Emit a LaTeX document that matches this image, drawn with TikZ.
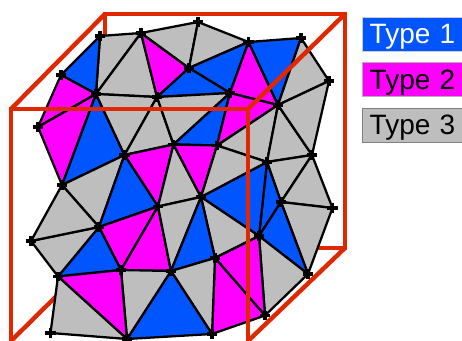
\documentclass[tikz,border=0pt]{standalone}
\usepackage{fontspec}
\setmainfont{Liberation Sans}
\definecolor{tblue}{HTML}{0055FF}
\definecolor{tmag}{HTML}{FF00FF}
\definecolor{tgray}{HTML}{BEBEBE}
\definecolor{tred}{HTML}{E02800}
\tikzset{
  cube/.style={draw=tred,line width=3.3pt,line join=miter,line cap=round},
  tri/.style={draw=black,line width=1.7pt,line join=round},
  vmark/.style={fill=black},
  legend/.style={anchor=west,draw=#1,line width=0.75pt,minimum height=25.5pt,text width=68pt,inner xsep=5.4pt,inner ysep=0pt,align=left,font=\fontsize{21pt}{22pt}\selectfont},
}
\begin{document}
\begin{tikzpicture}[x=0.75pt,y=-0.75pt]
\useasboundingbox (0,0) rectangle (462,341);
\clip (0,0) rectangle (462,341);
\fill[white] (0,0) rectangle (462,341);
% vertices
\foreach \n/\x/\y in {A/100/36,B/141/33,C/61/75,D/96/94,E/38/127,F/157/97,G/124.5/155,H/173.5/144.5,
 I/198/22,J/248.5/42,K/301/38,L/189/68,M/230/93,N/278/105,O/329/81,P/217/145.5,Q/267/162,R/312/155,
 S/62/185,T/99/227,U/31/241,V/158/206.5,W/58/276.5,X/121/270,Y/171/271,Z/50.5/333,AA/127/339,
 BB/201/197,CC/215/258,DD/259/236,EE/281/202,FF/332.5/208,GG/308/274,HH/265/315.5,II/212/334}
  {\coordinate (\n) at (\x,\y);}
\coordinate (b1) at (105,14);
\coordinate (b2) at (345,14);
\coordinate (b3) at (345,248);
\coordinate (b4) at (105,248);
\coordinate (f1) at (11,109);
\coordinate (f2) at (248,109);
\coordinate (f3) at (248,345);
\coordinate (f4) at (11,345);
\coordinate (f3d) at (248,341);
\coordinate (f4d) at (11,341);
% back edges of the cube
\draw[cube] (b1) -- (b2) -- (b3) -- (b4) -- cycle;
\draw[cube] (b4) -- (f4d);
% mesh
\foreach \a/\b/\c/\col in {
 A/B/D/tgray,B/D/F/tgray,B/F/L/tmag,B/I/L/tgray,I/J/L/tgray,L/J/M/tblue,L/F/M/tblue,
 J/M/N/tmag,J/K/N/tblue,K/N/O/tgray,A/C/D/tblue,C/D/E/tmag,E/D/S/tmag,D/S/G/tblue,
 D/G/F/tgray,F/G/H/tgray,F/H/M/tgray,H/M/P/tblue,M/P/N/tmag,G/H/V/tmag,H/V/BB/tgray,
 H/P/BB/tmag,P/N/Q/tgray,N/Q/R/tgray,N/O/R/tgray,Q/R/EE/tgray,R/EE/FF/tgray,EE/FF/GG/tgray,
 Q/EE/DD/tblue,EE/DD/GG/tblue,Q/BB/DD/tblue,P/Q/BB/tgray,BB/DD/CC/tgray,DD/GG/HH/tgray,
 DD/CC/HH/tmag,CC/HH/II/tmag,S/G/T/tgray,G/T/V/tblue,T/V/X/tmag,V/X/Y/tmag,V/Y/BB/tgray,
 BB/Y/CC/tblue,Y/CC/II/tgray,Y/II/AA/tblue,X/Y/AA/tgray,W/X/T/tblue,W/T/U/tgray,S/T/U/tgray,
 W/X/AA/tmag,W/Z/AA/tgray}
 {\filldraw[tri,fill=\col] (\a) -- (\b) -- (\c) -- cycle;}
% vertex marks
\foreach \n in {A,B,C,D,E,F,G,H,I,J,K,L,M,N,O,P,Q,R,S,T,U,V,W,X,Y,Z,AA,BB,CC,DD,EE,FF,GG,HH,II}
 {\fill[vmark] ([xshift=-4pt,yshift=-1.2pt]\n) rectangle ([xshift=4pt,yshift=1.2pt]\n);
  \fill[vmark] ([xshift=-1.2pt,yshift=-3.6pt]\n) rectangle ([xshift=1.2pt,yshift=3.6pt]\n);}
% front edges of the cube
\draw[cube] (f4) -- (f1) -- (f2) -- (f3);
\draw[cube] (f1) -- (b1);
\draw[cube] (f2) -- (b2);
\draw[cube] (f3d) -- (b3);
% legend
\node[legend=gray!40,fill=tblue,text=white] (t1) at (362,35) {\raisebox{-6.75pt}[0pt][0pt]{Type 1}};
\node[legend=gray!60,fill=tmag,text=black] (t2) at (362,80) {\raisebox{-7.5pt}[0pt][0pt]{Type 2}};
\node[legend=gray,fill=tgray,text=black] (t3) at (362,125.5) {\raisebox{-6.5pt}[0pt][0pt]{Type 3}};
\end{tikzpicture}
\end{document}
